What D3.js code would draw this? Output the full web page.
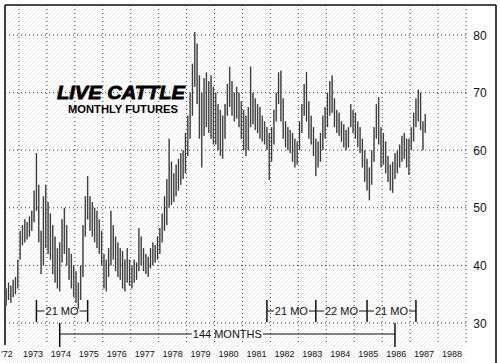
<!DOCTYPE html>
<html>
<head>
    <title>Live Cattle Monthly Futures</title>
    <script src="https://d3js.org/d3.v7.min.js"></script>
    <style>
        body {
            margin: 0;
            background: #fff;
        }
        svg text {
            font-family: "Liberation Sans", Arial, sans-serif;
        }
    </style>
</head>
<body>
    <svg id="chart" width="500" height="363"></svg>

    <script>
        // first bar is July 1972, one entry per month
        const startYear = 1972.5;
        const monthHighs = [
            36, 37, 36.5, 37.5, 38, 41,
            46, 47, 48, 47.5, 48.5, 49.5, 53, 59.5, 54, 46, 52, 54,
            51, 49, 47, 45, 43, 44, 48, 50, 47, 43, 42, 40,
            39, 37, 40, 47, 52, 55.5, 52, 51, 50, 49.5, 48, 46,
            42, 41, 43, 49.5, 47, 45, 44, 43, 42.5, 41, 43, 41,
            40, 41, 40.5, 46.5, 45, 43, 42, 41.5, 43, 44, 43.5, 45,
            46.5, 49, 52, 55, 62, 58, 56, 57.5, 58.5, 59.5, 60, 63,
            66, 70, 75, 80.5, 78.5, 73, 70, 72.5, 73.5, 72, 73, 71,
            70, 68, 67, 66, 68, 71.5, 74.5, 72, 70, 71, 70, 68.5,
            67, 66, 67.5, 74.5, 70, 69, 68, 67.5, 66, 65, 64, 63,
            64, 67, 70, 73.5, 73.8, 69, 65, 64, 63.5, 63, 62, 61.5,
            65, 68, 71.5, 73.6, 68.5, 66, 64, 62, 61.5, 63, 66, 67.5,
            70, 72, 73, 69, 67, 66.5, 65, 64.5, 63.5, 64, 68, 67,
            66.5, 65, 64, 62, 60, 58.5, 57, 60, 64, 68, 69.2, 64,
            63, 61.5, 59, 57.5, 58, 59.5, 60, 61, 62.5, 63, 62, 62,
            64, 66.5, 69, 70.5, 70, 65, 66.3
        ];
        const monthLows = [
            33, 34, 33.5, 34.5, 35, 36,
            41, 43.5, 44, 44.5, 45, 46, 47.5, 49.5, 44, 38.5, 40, 43,
            42, 41, 38.5, 37, 36, 35.5, 40.5, 42, 40, 37.5, 36, 34.5,
            33.5, 32.5, 34, 38, 45, 48, 46, 45, 44, 43, 42, 40,
            36, 35.5, 38, 40, 41, 39, 38, 37.5, 36, 35.5, 37, 36.5,
            36, 37, 37.5, 39, 40, 39, 38.5, 38, 39.5, 40, 40.5, 41,
            42, 44, 46, 47, 50, 50.5, 51, 52, 53, 54, 55, 56,
            59, 62, 66, 71, 68, 62, 57, 62.5, 64, 63, 62, 61,
            61, 60, 59, 58.5, 62, 66, 67.5, 66, 65, 65.5, 64, 62,
            60, 59, 60, 64, 64.5, 63.5, 63, 62, 61.5, 61, 60, 54.8,
            58, 61, 65, 68, 65, 62, 60.5, 60, 59.5, 58, 57, 57.5,
            60, 63, 66, 65, 62, 61, 59, 55.5, 57, 58, 60, 62,
            64, 66, 66.5, 64, 63, 62.5, 61.5, 60.5, 60, 60.5, 64, 63,
            62, 60.5, 59.5, 57, 54.5, 53, 51.3, 54, 58, 62, 61, 57,
            57.5, 56, 54.5, 53, 52.6, 55, 56, 57, 58, 58.5, 57, 55.7,
            60, 61.5, 64, 65, 63.5, 60, 63
        ];

        const yearLabels = ["'72", '1973', '1974', '1975', '1976', '1977', '1978', '1979', '1980',
            '1981', '1982', '1983', '1984', '1985', '1986', '1987', '1988'];
        const priceTicks = [30, 40, 50, 60, 70, 80];

        // cycle brackets, given as month index into the arrays above
        const cycleMarks = [13, 35];
        const cycleLabels = ['21 MO'];
        const laterMarks = [112, 133, 155, 176];
        const laterLabels = ['21 MO', '22 MO', '21 MO'];
        const longSpan = [23, 167];
        const longLabel = '144 MONTHS';

        const svg = d3.select('#chart');
        const defs = svg.append('defs');

        const x = d3.scaleLinear().domain([startYear, 1989]).range([5, 466]);
        const y = d3.scaleLinear().domain([30, 80]).range([323, 35]);
        const monthX = i => x(startYear + (i + 0.5) / 12);

        // scanned screen look: fine diagonal hatch over the plot
        const hatch = defs.append('pattern')
            .attr('id', 'hatch')
            .attr('patternUnits', 'userSpaceOnUse')
            .attr('width', 4)
            .attr('height', 4);
        hatch.append('path')
            .attr('d', 'M -1 5 L 5 -1 M -1 1 L 1 -1 M 3 5 L 5 3')
            .attr('stroke', '#d4d0d2')
            .attr('stroke-width', 0.8)
            .attr('stroke-dasharray', '1.5 0.8');

        svg.append('rect')
            .attr('x', 5).attr('y', 5)
            .attr('width', x(1989) - 5).attr('height', 358)
            .attr('fill', 'url(#hatch)');

        // dotted grid
        const grid = svg.append('g')
            .attr('stroke', '#222')
            .attr('stroke-width', 0.9)
            .attr('stroke-dasharray', '1 3');
        grid.selectAll('.hgrid')
            .data(priceTicks)
            .join('line')
            .attr('x1', 5).attr('x2', x(1989))
            .attr('y1', d => y(d)).attr('y2', d => y(d));
        grid.selectAll('.vgrid')
            .data(d3.range(1973, 1990))
            .join('line')
            .attr('x1', d => x(d)).attr('x2', d => x(d))
            .attr('y1', 5).attr('y2', 345);

        // frame
        const frame = svg.append('g').attr('stroke', '#111').attr('fill', 'none');
        frame.append('line').attr('x1', 5).attr('x2', 496).attr('y1', 5).attr('y2', 5).attr('stroke-width', 1.6);
        frame.append('line').attr('x1', 5).attr('x2', 5).attr('y1', 5).attr('y2', 345).attr('stroke-width', 1.6);
        frame.append('line').attr('x1', 496).attr('x2', 496).attr('y1', 5).attr('y2', 363).attr('stroke-width', 1.6);

        // monthly high-low bars
        const bars = svg.append('g');
        bars.selectAll('rect')
            .data(monthHighs)
            .join('rect')
            .attr('x', (d, i) => monthX(i) - 0.8)
            .attr('width', 1.6)
            .attr('y', d => y(d))
            .attr('height', (d, i) => y(monthLows[i]) - y(d))
            .attr('fill', '#9a9a9a');
        bars.selectAll('line')
            .data(monthHighs)
            .join('line')
            .attr('x1', (d, i) => monthX(i))
            .attr('x2', (d, i) => monthX(i))
            .attr('y1', d => y(d))
            .attr('y2', (d, i) => y(monthLows[i]))
            .attr('stroke', '#1a1a1a')
            .attr('stroke-width', 0.8);

        // axis labels
        svg.append('g')
            .selectAll('text')
            .data(yearLabels)
            .join('text')
            .attr('x', (d, i) => i === 0 ? 7 : x(1972 + i + 0.5))
            .attr('y', 357)
            .attr('text-anchor', 'middle')
            .attr('font-size', 9)
            .attr('fill', '#111')
            .text(d => d);

        svg.append('g')
            .selectAll('text')
            .data(priceTicks)
            .join('text')
            .attr('x', 480)
            .attr('y', d => y(d) + 4.5)
            .attr('text-anchor', 'middle')
            .attr('font-size', 12)
            .attr('fill', '#111')
            .text(d => d);

        // title
        svg.append('text')
            .attr('x', 57).attr('y', 98.5)
            .attr('font-size', 19)
            .attr('font-weight', 'bold')
            .attr('font-style', 'italic')
            .attr('stroke', '#000').attr('stroke-width', 0.8)
            .attr('textLength', 128)
            .attr('lengthAdjust', 'spacingAndGlyphs')
            .text('LIVE CATTLE');
        svg.append('text')
            .attr('x', 68).attr('y', 112.5)
            .attr('font-size', 11)
            .attr('font-weight', 'bold')
            .attr('textLength', 110)
            .attr('lengthAdjust', 'spacingAndGlyphs')
            .text('MONTHLY FUTURES');

        // bracket with labels between each pair of marks
        function drawBracket(marks, labels, lineY, tickTop, tickBottom) {
            const g = svg.append('g').attr('stroke', '#111');
            marks.forEach(m => {
                g.append('line')
                    .attr('x1', monthX(m)).attr('x2', monthX(m))
                    .attr('y1', tickTop).attr('y2', tickBottom)
                    .attr('stroke-width', 1.5);
            });
            labels.forEach((label, k) => {
                const x0 = monthX(marks[k]);
                const x1 = monthX(marks[k + 1]);
                const t = svg.append('text')
                    .attr('x', (x0 + x1) / 2)
                    .attr('y', lineY + 4)
                    .attr('text-anchor', 'middle')
                    .attr('font-size', 11)
                    .attr('fill', '#111')
                    .text(label);
                const half = t.node().getComputedTextLength() / 2;
                g.append('line')
                    .attr('x1', x0).attr('x2', (x0 + x1) / 2 - half - 1)
                    .attr('y1', lineY).attr('y2', lineY)
                    .attr('stroke-width', 1);
                g.append('line')
                    .attr('x1', (x0 + x1) / 2 + half + 1).attr('x2', x1)
                    .attr('y1', lineY).attr('y2', lineY)
                    .attr('stroke-width', 1);
            });
        }

        drawBracket(cycleMarks, cycleLabels, 311, 300, 322);
        drawBracket(laterMarks, laterLabels, 311, 300, 322);
        drawBracket(longSpan, [longLabel], 334, 323, 347);
    </script>
</body>
</html>
